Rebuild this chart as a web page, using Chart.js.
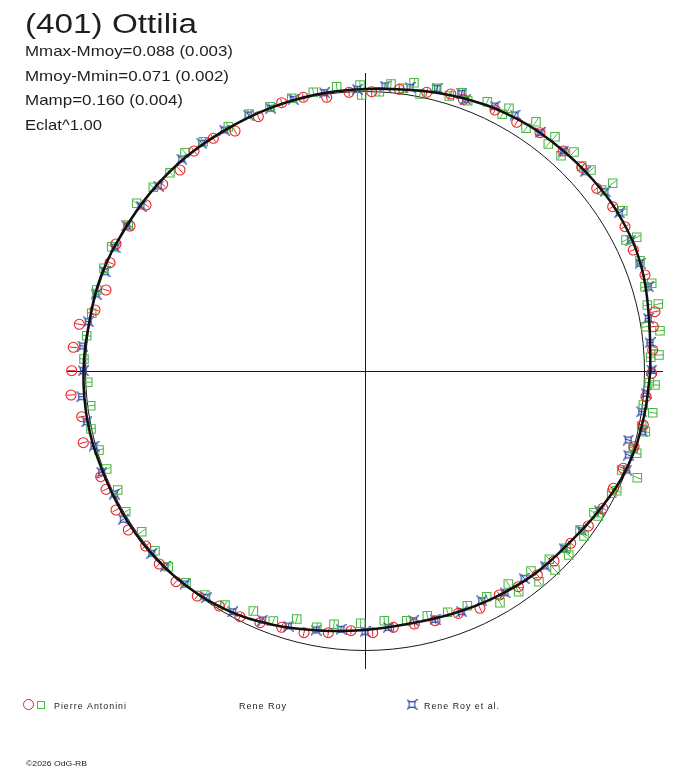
<!DOCTYPE html>
<html>
<head>
<meta charset="utf-8">
<title>(401) Ottilia</title>
<script src="https://cdn.jsdelivr.net/npm/chart.js@4.4.1/dist/chart.umd.min.js"></script>
<style>
  html, body { margin: 0; padding: 0; background: #fff; }
  #wrap { width: 688px; height: 768px; }
</style>
</head>
<body>
<div id="wrap"><canvas id="polar" width="688" height="768"></canvas></div>
<script>
// (401) Ottilia - polar lightcurve. plot units: reference circle = refRadius
const titleText = '(401) Ottilia';
const statLines = ['Mmax-Mmoy=0.088 (0.003)', 'Mmoy-Mmin=0.071 (0.002)', 'Mamp=0.160 (0.004)', 'Eclat^1.00'];
const observerNames = ['Pierre Antonini', 'Rene Roy', 'Rene Roy et al.'];
const creditText = '\u00a92026 OdG-RB';

const refRadius = 2.795;
const axisLimit = 2.98;

// fitted curve, angle in degrees counter-clockwise from +x
const fitAngle = [0, 10, 20, 30, 40, 50, 60, 70, 80, 90, 100, 110, 120, 130, 140, 150, 160, 170, 180,
  190, 200, 210, 220, 230, 240, 250, 260, 270, 280, 290, 300, 310, 320, 330, 340, 350, 360];
const fitRadius = [2.855, 2.885, 2.95, 2.98, 2.975, 2.96, 2.94, 2.90, 2.85, 2.82, 2.808, 2.795, 2.785, 2.79,
  2.79, 2.79, 2.805, 2.80, 2.815, 2.82, 2.81, 2.81, 2.81, 2.795, 2.76, 2.70, 2.635, 2.59, 2.565, 2.58,
  2.61, 2.645, 2.67, 2.73, 2.795, 2.825, 2.855];

// Pierre Antonini (red circles)
const antoniniX = [-0.833, -0.617, -0.383, -0.16, 0.067, 0.343, 0.617, 0.857, 0.983,
  1.30, 1.517, 1.75, 1.983, 2.167, 2.317, 2.477, 2.60, 2.683, 2.80,
  2.90, 2.883, 2.877, 2.867, 2.81, 2.783, 2.69,
  2.583, 2.483, 2.377, 2.233, 2.057, 1.89, 1.723, 1.533, 1.343, 1.15,
  0.933, 0.70, 0.493, 0.283, 0.077, -0.14, -0.367, -0.61, -0.833,
  -1.05, -1.25, -1.457, -1.677, -1.89, -2.057, -2.193, -2.367, -2.49, -2.59, -2.643, -2.817,
  -2.833, -2.94, -2.933, -2.917, -2.857, -2.70, -2.59,
  -2.55, -2.49, -2.35, -2.19, -2.023, -1.85, -1.71, -1.517, -1.30, -1.067];
const antoniniY = [2.683, 2.737, 2.737, 2.787, 2.793, 2.817, 2.787, 2.77, 2.717,
  2.61, 2.487, 2.383, 2.20, 2.037, 1.827, 1.643, 1.443, 1.21, 0.96,
  0.593, 0.443, 0.21, -0.023, -0.257, -0.54, -0.757,
  -0.973, -1.173, -1.373, -1.55, -1.723, -1.90, -2.04, -2.157, -2.24, -2.373,
  -2.423, -2.497, -2.53, -2.563, -2.617, -2.597, -2.617, -2.617, -2.563,
  -2.517, -2.457, -2.35, -2.25, -2.107, -1.93, -1.75, -1.59, -1.39, -1.183, -1.057, -0.717,
  -0.457, -0.24, 0.003, 0.237, 0.467, 0.61, 0.81,
  1.083, 1.27, 1.45, 1.66, 1.867, 2.01, 2.20, 2.327, 2.40, 2.543];

// Rene Roy (green squares)
const royX = [-0.733, -0.517, -0.283, -0.05, -0.033, 0.143, 0.26, 0.383, 0.49, 0.55, 0.717, 0.843, 0.967, 1.027,
  1.223, 1.373, 1.44, 1.61, 1.71, 1.833, 1.90, 1.96, 2.09, 2.167, 2.26, 2.367, 2.477, 2.577, 2.61, 2.717, 2.75, 2.80, 2.867,
  2.823, 2.933, 2.81, 2.95, 2.94, 2.857, 2.90, 2.843, 2.783, 2.877, 2.767, 2.803, 2.683, 2.717,
  2.567, 2.723, 2.467, 2.517, 2.29, 2.333, 2.15, 2.19, 2.01, 2.037, 1.843, 1.90, 1.66, 1.74, 1.433, 1.537, 1.217, 1.35, 1.023,
  0.827, 0.623, 0.417, 0.193, -0.043, -0.31, -0.483, -0.683,
  -0.917, -1.117, -1.40, -1.60, -1.79, -1.967, -2.10, -2.233, -2.393, -2.473, -2.583, -2.66,
  -2.74, -2.743, -2.773, -2.81, -2.783, -2.733, -2.683,
  -2.61, -2.533, -2.367, -2.283, -2.117, -1.95, -1.80, -1.617, -1.367, -1.157, -0.95];
const royY = [2.727, 2.787, 2.843, 2.86, 2.76, 2.793, 2.87, 2.827, 2.883, 2.77, 2.827, 2.75, 2.783, 2.703,
  2.693, 2.567, 2.627, 2.427, 2.493, 2.27, 2.343, 2.153, 2.19, 2.05, 2.01, 1.81, 1.877, 1.603, 1.31, 1.337, 1.103, 0.843, 0.877,
  0.66, 0.67, 0.443, 0.403, 0.16, 0.137, -0.14, -0.117, -0.34, -0.417, -0.55, -0.607, -0.773, -0.823,
  -0.99, -1.067, -1.223, -1.197, -1.417, -1.45, -1.59, -1.65, -1.773, -1.84, -1.883, -1.99, -2.00, -2.107, -2.13, -2.207, -2.257, -2.317, -2.347,
  -2.413, -2.447, -2.497, -2.497, -2.523, -2.533, -2.563, -2.48,
  -2.50, -2.40, -2.34, -2.24, -2.117, -1.957, -1.797, -1.607, -1.407, -1.19, -0.98, -0.79,
  -0.58, -0.347, -0.113, 0.12, 0.353, 0.577, 0.81,
  1.027, 1.243, 1.46, 1.677, 1.837, 1.983, 2.183, 2.293, 2.443, 2.57, 2.643];

// Rene Roy et al. (blue stars)
const royEtAlX = [-0.407, -0.077, 0.20, 0.45, 0.723, 0.967, 1.007,
  1.30, 1.50, 1.75, 1.983, 2.20, 2.40, 2.543, 2.657, 2.75, 2.833,
  2.833, 2.85, 2.867, 2.81, 2.767, 2.777, 2.633, 2.633,
  2.617, 2.343, 2.167, 1.99, 1.80, 1.59, 1.40, 1.167, 0.967,
  0.70, 0.483, 0.233, 0, -0.24, -0.49, -0.767,
  -1.023, -1.323, -1.583, -1.80, -2.00, -2.133, -2.417, -2.507, -2.633, -2.71,
  -2.783, -2.833, -2.817, -2.823, -2.767, -2.69,
  -2.60, -2.50, -2.383, -2.24, -2.067, -1.833, -1.633, -1.407, -1.167, -0.943, -0.717];
const royEtAlY = [2.783, 2.817, 2.85, 2.837, 2.827, 2.777, 2.717,
  2.65, 2.56, 2.383, 2.20, 1.993, 1.793, 1.583, 1.31, 1.077, 0.843,
  0.527, 0.283, 0.01, -0.223, -0.407, -0.607, -0.69, -0.84,
  -0.99, -1.397, -1.597, -1.773, -1.95, -2.073, -2.217, -2.297, -2.407,
  -2.483, -2.497, -2.563, -2.607, -2.583, -2.59, -2.55,
  -2.49, -2.407, -2.263, -2.13, -1.957, -1.823, -1.483, -1.23, -1.013, -0.75,
  -0.507, -0.257, 0.003, 0.25, 0.493, 0.77,
  0.993, 1.233, 1.453, 1.65, 1.85, 2.12, 2.277, 2.41, 2.56, 2.627, 2.717];

// radial error bar half-length per observer
const antoniniErr = 0.04;
const royErr = 0.045;
const royEtAlErr = 0.035;

const RED = '#e82222';
const GREEN = '#4cb848';
const BLUE = '#2a44a8';
const FONT = '"Liberation Sans", Arial, sans-serif';

function toXY(xs, ys) {
  return xs.map((x, i) => ({ x: x, y: ys[i] }));
}
const fitPoints = fitAngle.map((a, i) => ({
  x: fitRadius[i] * Math.cos(a * Math.PI / 180),
  y: fitRadius[i] * Math.sin(a * Math.PI / 180)
}));

// concave four point star used by Rene Roy et al.
function makeStar(color) {
  const c = document.createElement('canvas');
  c.width = 11; c.height = 11;
  const g = c.getContext('2d');
  g.translate(5.5, 5.5);
  g.strokeStyle = color;
  g.lineWidth = 1.1;
  const s = 3.8;
  g.beginPath();
  g.moveTo(-s, -s);
  g.quadraticCurveTo(0, -1.5, s, -s);
  g.quadraticCurveTo(1.5, 0, s, s);
  g.quadraticCurveTo(0, 1.5, -s, s);
  g.quadraticCurveTo(-1.5, 0, -s, -s);
  g.moveTo(-s, -s); g.lineTo(-5, -5);
  g.moveTo(s, -s); g.lineTo(5, -5);
  g.moveTo(s, s); g.lineTo(5, 5);
  g.moveTo(-s, s); g.lineTo(-5, 5);
  g.stroke();
  return c;
}
const starImg = makeStar(BLUE);

function fitText(ctx, str, x, y, width) {
  const w = ctx.measureText(str).width;
  ctx.save();
  ctx.translate(x, y);
  ctx.scale(width / w, 1);
  ctx.fillText(str, 0, 0);
  ctx.restore();
}

const polarFrame = {
  id: 'polarFrame',
  beforeDatasetsDraw(chart) {
    const ctx = chart.ctx;
    const xs = chart.scales.x, ys = chart.scales.y;
    const area = chart.chartArea;
    const cx = xs.getPixelForValue(0), cy = ys.getPixelForValue(0);
    ctx.save();
    ctx.strokeStyle = '#1a1a1a';
    ctx.lineWidth = 1;
    ctx.beginPath();
    ctx.moveTo(area.left, cy + 0.5); ctx.lineTo(area.right, cy + 0.5);
    ctx.moveTo(cx + 0.5, area.top); ctx.lineTo(cx + 0.5, area.bottom);
    ctx.stroke();
    const rpx = xs.getPixelForValue(refRadius) - cx;
    ctx.beginPath();
    ctx.arc(cx, cy, rpx, 0, Math.PI * 2);
    ctx.stroke();

    // radial error bars
    chart.data.datasets.forEach(ds => {
      if (!ds.errorBar) return;
      ctx.strokeStyle = ds.borderColor;
      ctx.beginPath();
      ds.data.forEach(p => {
        const r = Math.hypot(p.x, p.y);
        const ux = p.x / r, uy = p.y / r;
        const e = ds.errorBar;
        ctx.moveTo(xs.getPixelForValue(p.x - ux * e), ys.getPixelForValue(p.y - uy * e));
        ctx.lineTo(xs.getPixelForValue(p.x + ux * e), ys.getPixelForValue(p.y + uy * e));
      });
      ctx.stroke();
    });
    ctx.restore();
  },
  afterDraw(chart) {
    const ctx = chart.ctx;
    ctx.save();
    ctx.fillStyle = '#1e1e1e';
    ctx.textBaseline = 'alphabetic';
    ctx.font = '27px ' + FONT;
    fitText(ctx, titleText, 25, 33, 172);
    ctx.font = '14.5px ' + FONT;
    const statW = [208, 204, 158, 77];
    const statY = [56, 81, 105, 130];
    statLines.forEach((s, i) => fitText(ctx, s, 25, statY[i], statW[i]));

    // legend row
    ctx.lineWidth = 1;
    ctx.strokeStyle = RED;
    ctx.beginPath(); ctx.arc(28.5, 704.5, 5, 0, Math.PI * 2); ctx.stroke();
    ctx.strokeStyle = GREEN;
    ctx.strokeRect(37.5, 701.5, 7, 7);
    ctx.drawImage(starImg, 412 - 5.5, 704.5 - 5.5);
    ctx.fillStyle = '#222';
    ctx.font = '9px ' + FONT;
    if ('letterSpacing' in ctx) ctx.letterSpacing = '1px';
    fitText(ctx, observerNames[0], 54, 709, 73);
    fitText(ctx, observerNames[1], 239, 709, 48);
    fitText(ctx, observerNames[2], 424, 709, 76);
    if ('letterSpacing' in ctx) ctx.letterSpacing = '0px';
    ctx.font = '8px ' + FONT;
    fitText(ctx, creditText, 26, 766, 61);
    ctx.restore();
  }
};

new Chart(document.getElementById('polar'), {
  type: 'scatter',
  data: {
    datasets: [
      {
        label: 'fit',
        data: fitPoints,
        showLine: true,
        borderColor: '#111',
        borderWidth: 2.5,
        pointRadius: 0,
        tension: 0.4,
        clip: false
      },
      {
        label: observerNames[0],
        data: toXY(antoniniX, antoniniY),
        pointStyle: 'circle',
        pointRadius: 5,
        borderColor: RED,
        backgroundColor: 'rgba(0,0,0,0)',
        borderWidth: 1.1,
        errorBar: antoniniErr,
        clip: false
      },
      {
        label: observerNames[1],
        data: toXY(royX, royY),
        pointStyle: 'rect',
        pointRadius: 6,
        borderColor: GREEN,
        backgroundColor: 'rgba(0,0,0,0)',
        borderWidth: 1.1,
        errorBar: royErr,
        clip: false
      },
      {
        label: observerNames[2],
        data: toXY(royEtAlX, royEtAlY),
        pointStyle: starImg,
        pointRadius: 5,
        borderColor: BLUE,
        errorBar: royEtAlErr,
        clip: false
      }
    ]
  },
  options: {
    responsive: false,
    animation: false,
    devicePixelRatio: 1,
    layout: { padding: { left: 67, right: 25, top: 73, bottom: 99 } },
    plugins: { legend: { display: false }, tooltip: { enabled: false } },
    scales: {
      x: { type: 'linear', min: -axisLimit, max: axisLimit, display: false },
      y: { type: 'linear', min: -axisLimit, max: axisLimit, display: false }
    }
  },
  plugins: [polarFrame]
});
</script>
</body>
</html>
